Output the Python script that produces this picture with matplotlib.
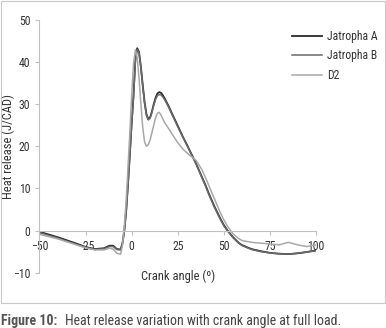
import matplotlib
matplotlib.use('Agg')
import matplotlib.pyplot as plt
from matplotlib.patches import Rectangle

plt.rcParams['font.family'] = ['Roboto Condensed', 'DejaVu Sans']

# crank angle (deg) shared by all three series
angle = [-50, -40, -30, -25, -20, -15, -12, -10, -8, -6, -5, -4, -3, -2, -1,
         0, 1, 2, 3, 4, 5, 6, 7, 8, 9, 10, 11, 12, 13, 14, 15, 16, 17, 18,
         20, 22, 25, 28, 30, 33, 35, 38, 40, 42, 45, 48, 50, 52, 55, 58, 60,
         65, 70, 75, 80, 85, 90, 95, 100]

# heat release (J/CAD)
jatropha_a = [-0.3, -1.6, -3.1, -3.9, -4.4, -4.2, -3.6, -3.6, -4.4, -4.5, -3.0, 0.0, 4.5, 11, 18,
              25.5, 32, 40.5, 43.2, 42.3, 38.8, 34.5, 30.5, 27.6, 26.4, 26.8, 28.2, 30, 31.5, 32.5, 32.8, 32.6, 32, 31.2,
              29.5, 27.6, 24.8, 22, 20.3, 17.6, 15.8, 12.8, 10.8, 8.6, 5.6, 2.9, 1.3, 0.0, -1.6, -2.9, -3.5,
              -4.4, -4.9, -5.3, -5.5, -5.6, -5.4, -5.1, -4.7]
jatropha_b = [-0.5, -1.8, -3.3, -4.0, -4.5, -4.3, -3.8, -3.8, -4.5, -4.6, -3.2, -0.2, 4.2, 10.5, 17.5,
              25, 31.5, 40, 42.9, 42.1, 38.6, 34.2, 30.2, 27.3, 26.2, 26.6, 28, 29.7, 31.1, 32, 32.2, 32.1, 31.6, 30.9,
              29.3, 27.4, 24.6, 21.9, 20.2, 17.5, 15.7, 12.6, 10.6, 8.4, 5.4, 2.7, 1.1, -0.1, -1.7, -3.0, -3.6,
              -4.5, -5.0, -5.3, -5.5, -5.6, -5.4, -5.1, -4.8]
d2 = [-0.9, -2.0, -3.4, -4.1, -4.6, -4.6, -4.2, -4.4, -5.4, -5.6, -3.5, 1.0, 7, 15, 23,
      32, 39.5, 42.8, 41, 36, 30, 24.5, 21, 20, 20.3, 21.5, 23.2, 25, 26.8, 27.8, 28, 27.3, 26.3, 25.5,
      24.2, 22.8, 20.8, 19.2, 18.4, 17.3, 16.6, 14.5, 12.6, 10.5, 7.4, 4.3, 2.5, 1.0, -0.8, -1.9, -2.4,
      -2.8, -3.0, -3.2, -3.4, -2.8, -3.4, -3.8, -3.4]

xticks = [-50, -25, 0, 25, 50, 75, 100]
yticks = [-10, 0, 10, 20, 30, 40, 50]

fig = plt.figure(figsize=(3.86, 3.28), dpi=100)
ax = fig.add_axes([0.1023, 0.1686, 0.7164, 0.7719])

ax.plot(angle, jatropha_a, color='#2a2a2a', linewidth=1.3, label='Jatropha A')
ax.plot(angle, jatropha_b, color='#6a6a6a', linewidth=1.1, label='Jatropha B')
ax.plot(angle, d2, color='#a8a8a8', linewidth=1.1, label='D2')

ax.set_xlim(-50, 100)
ax.set_ylim(-10, 50)
ax.set_xticks(xticks)
ax.set_yticks(yticks)

# x axis sits on y=0 like the Excel original
ax.spines['bottom'].set_position(('data', 0))
ax.spines['top'].set_visible(False)
ax.spines['right'].set_visible(False)
for s in ['bottom', 'left']:
    ax.spines[s].set_color('#c0c0c0')
    ax.spines[s].set_linewidth(0.8)
ax.tick_params(axis='both', colors='#c0c0c0', labelcolor='#333333', labelsize=8.5, length=3, width=0.8)
ax.tick_params(axis='x', pad=4)

ax.set_xlabel('Crank angle (º)', fontsize=9, color='#333333')
ax.xaxis.set_label_coords(0.50, 0.012)
ax.set_ylabel('Heat release (J/CAD)', fontsize=9, color='#333333')
ax.yaxis.set_label_coords(-0.09, 0.5)

handles, labels = ax.get_legend_handles_labels()
fig.legend(handles, labels, loc='upper left', bbox_to_anchor=(292 / 386, 1 - 30 / 328),
           frameon=False, fontsize=8.5, handlelength=2.5, handletextpad=0.5, labelspacing=0.55,
           labelcolor='#333333', borderaxespad=0, borderpad=0)

# box around the chart area and caption below
fig.patches.append(Rectangle((1 / 386, 1 - 303 / 328), 384 / 386, 302 / 328, transform=fig.transFigure,
                             fill=False, edgecolor='#c8c8c8', linewidth=0.8))
fig.text(0.003, 1 - 321 / 328, 'Figure 10:', fontsize=10, fontweight='bold', color='#555555', va='center')
fig.text(65 / 386, 1 - 321 / 328, 'Heat release variation with crank angle at full load.',
         fontsize=10, color='#444444', va='center')

fig.savefig('out.png', dpi=100)
